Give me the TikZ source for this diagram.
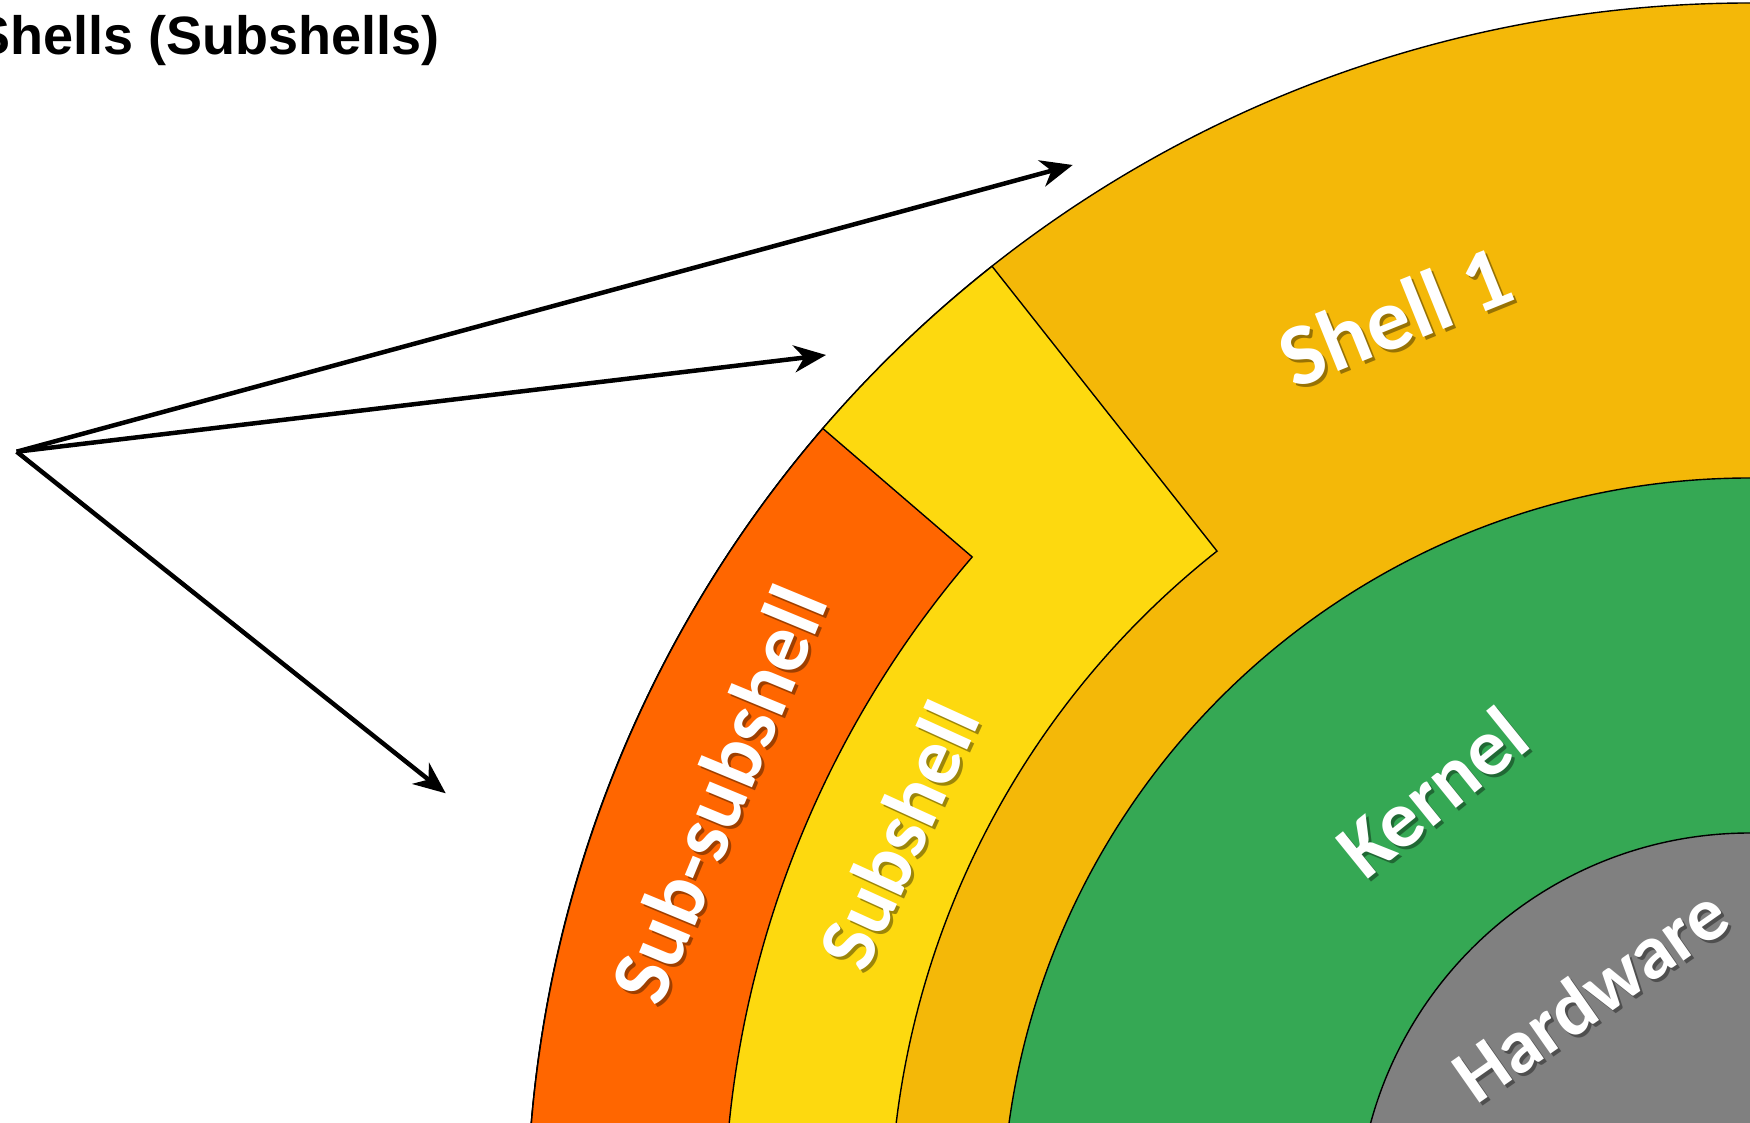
\documentclass[tikz,border=0pt]{standalone}
\usepackage{fontspec}
\newfontfamily\titlefont{Liberation Sans}
\newfontfamily\labelfont{Carlito}
\usetikzlibrary{arrows.meta,calc}
\definecolor{shellgold}{RGB}{244,184,8}
\definecolor{subyellow}{RGB}{253,217,15}
\definecolor{subsubred}{RGB}{255,102,0}
\definecolor{kernelgreen}{RGB}{53,168,84}
\definecolor{hwgray}{RGB}{128,128,128}
\begin{document}
\begin{tikzpicture}[x=1pt,y=1pt,
  ring/.style={draw=black,line width=1.4pt},
  arr/.style={line width=4.5pt,-{Stealth[length=32pt,width=27pt,inset=10pt]}},
  lbl/.style={text=white,font=\labelfont\bfseries\fontsize{#1}{#1}\selectfont,inner sep=0pt},
  shd/.style={text=black,opacity=0.38,font=\labelfont\bfseries\fontsize{#1}{#1}\selectfont,inner sep=0pt}]
\useasboundingbox (0,0) rectangle (1750,1122);
\clip (0,0) rectangle (1750,1122);
\fill[white] (0,0) rectangle (1750,1122);
\coordinate (c) at (1750,-104);
% rings
\draw[ring,fill=shellgold] (c) circle[radius=1223];
\draw[ring,fill=subyellow] ($(c)+(128.3:860)$) -- ($(c)+(128.3:1223)$)
  arc[start angle=128.3,end angle=200,radius=1223] -- ($(c)+(200:860)$)
  arc[start angle=200,end angle=128.3,radius=860] -- cycle;
\draw[ring,fill=subsubred] ($(c)+(139.3:1026)$) -- ($(c)+(139.3:1223)$)
  arc[start angle=139.3,end angle=200,radius=1223] -- ($(c)+(200:1026)$)
  arc[start angle=200,end angle=139.3,radius=1026] -- cycle;
\draw[ring,fill=kernelgreen] (c) circle[radius=748];
\draw[ring,fill=hwgray] (c) circle[radius=393];
% labels (soft shadow, then white text)
\node[shd=88,rotate=22] at (1398,803) {Shell 1};
\node[lbl=88,rotate=22] (shell) at (1395,806) {Shell 1};
\node[shd=81,rotate=65.5] at (901,284) {Subshell};
\node[lbl=81,rotate=65.5] (sub) at (898,287) {Subshell};
\node[shd=84,rotate=67.5] at (721,325) {Sub-subshell};
\node[lbl=84,rotate=67.5] (subsub) at (718,328) {Sub-subshell};
\node[shd=81,rotate=39] at (1435,327) {Kernel};
\node[lbl=81,rotate=39] (kernel) at (1432,330) {Kernel};
\node[shd=77,rotate=35] at (1593,125) {Hardware};
\node[lbl=77,rotate=35] (hw) at (1590,128) {Hardware};
% title
\node[anchor=base west,inner sep=0pt,font=\titlefont\bfseries\fontsize{54}{60}\selectfont] (title) at (-26,1067) {Shells (Subshells)};
% arrows
\coordinate (o) at (16.7,670.3);
\coordinate (t1) at (1072.7,957);
\coordinate (t2) at (826,767);
\coordinate (t3) at (445.7,328.7);
\draw[arr] (o) -- (t1);
\draw[arr] (o) -- (t2);
\draw[arr] (o) -- (t3);
\end{tikzpicture}
\end{document}
